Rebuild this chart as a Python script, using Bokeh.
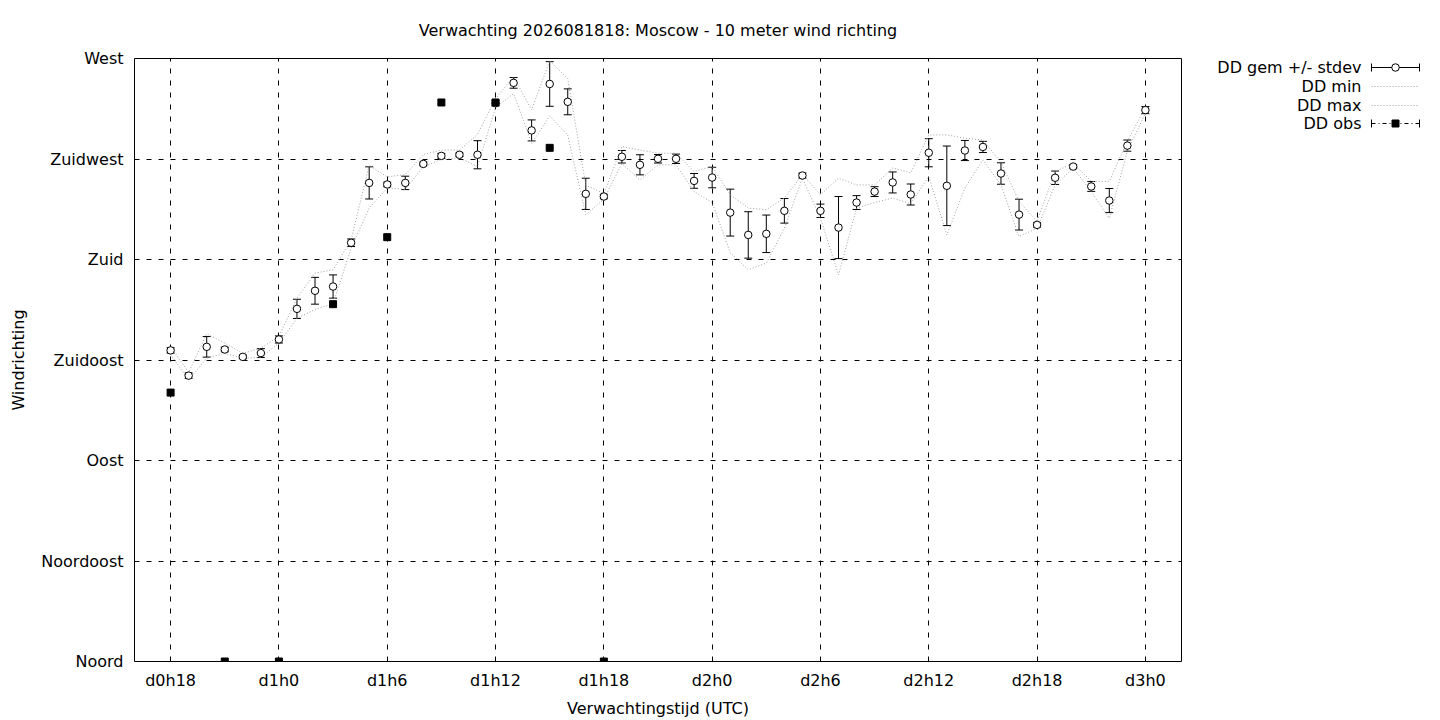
from bokeh.plotting import figure
from bokeh.models import Range1d, FixedTicker, Whisker, TeeHead, ColumnDataSource
from bokeh.layouts import row
from bokeh.embed import file_html
from bokeh.resources import INLINE
from bokeh.core.properties import value

# ---------------- data ----------------
hours = list(range(18, 73))
dd_mean = [139.3, 128.0, 140.9, 139.7, 136.4, 138.1, 144.2, 157.9, 166.0, 167.9,
           187.5, 214.3, 213.6, 214.3, 222.8, 226.4, 226.9, 226.9, 250.0, 259.1,
           237.8, 258.6, 250.6, 209.4, 208.2, 226.0, 222.4, 225.1, 225.1, 215.2,
           216.7, 201.0, 191.0, 191.5, 201.8, 217.6, 201.8, 194.3, 205.5, 210.4,
           214.5, 209.1, 227.8, 213.0, 228.8, 230.4, 218.5, 200.1, 195.5, 216.6,
           221.6, 212.7, 206.4, 231.0, 246.9]
dd_std = [1.2, 1.2, 4.6, 1.0, 0.8, 2.0, 1.6, 4.3, 6.0, 5.2,
          1.7, 7.2, 1.0, 3.0, 0.8, 1.1, 0.8, 6.3, 1.2, 2.4,
          4.7, 10.0, 5.8, 7.0, 1.0, 2.8, 4.5, 1.9, 2.1, 3.3,
          4.6, 10.5, 10.4, 8.4, 5.5, 1.1, 3.0, 13.9, 3.1, 2.2,
          4.7, 4.7, 6.3, 17.8, 4.5, 2.5, 4.8, 6.9, 1.0, 3.0,
          0.9, 2.2, 5.4, 2.5, 1.6]
dd_min = [137.5, 126.0, 135.8, 138.0, 135.8, 136.1, 142.6, 153.7, 157.6, 160.2,
          185.0, 203.0, 212.0, 211.4, 221.6, 224.8, 225.5, 221.6, 248.0, 254.3,
          232.0, 244.3, 235.7, 200.0, 207.0, 223.0, 215.6, 222.4, 222.4, 210.4,
          205.5, 183.1, 175.4, 178.4, 194.0, 216.4, 198.5, 173.1, 203.0, 205.5,
          207.5, 205.0, 217.2, 191.0, 212.0, 224.6, 213.4, 190.3, 194.0, 213.4,
          221.0, 210.4, 198.5, 228.5, 245.5]
dd_max = [141.0, 129.5, 146.7, 142.6, 138.0, 140.3, 145.5, 162.7, 173.9, 175.4,
          188.8, 222.2, 217.0, 218.0, 227.0, 229.0, 229.0, 236.0, 252.0, 261.8,
          247.0, 269.0, 261.0, 213.3, 209.5, 230.6, 229.0, 227.6, 227.6, 219.4,
          221.6, 209.0, 203.0, 202.3, 207.5, 218.0, 209.0, 216.4, 213.4, 213.4,
          221.0, 218.8, 235.8, 235.8, 234.3, 233.5, 223.5, 206.0, 197.0, 219.4,
          223.1, 215.0, 215.0, 233.0, 248.0]
obs_hours = [18, 21, 24, 27, 30, 33, 36, 39, 42]
obs_dd = [120.4, 0.0, 0.0, 160.0, 190.0, 250.3, 250.3, 230.0, 0.0]

y_ticks = [0, 45, 90, 135, 180, 225, 270]
y_labels = ["Noord", "Noordoost", "Oost", "Zuidoost", "Zuid", "Zuidwest", "West"]
x_ticks = [18, 24, 30, 36, 42, 48, 54, 60, 66, 72]
x_labels = ["d0h18", "d1h0", "d1h6", "d1h12", "d1h18", "d2h0", "d2h6", "d2h12", "d2h18", "d3h0"]

legend_labels = ["DD gem +/- stdev", "DD min", "DD max", "DD obs"]

FONT = "DejaVu Sans"
FS = "16px"

# ---------------- main figure ----------------
p = figure(frame_width=1047, frame_height=603,
           x_range=Range1d(16, 74), y_range=Range1d(0, 270),
           output_backend="svg", toolbar_location=None,
           min_border_left=134, min_border_right=10, min_border_top=56, min_border_bottom=0)
p.background_fill_color = "white"
p.border_fill_color = "white"
p.outline_line_color = "black"
p.outline_line_width = 1
p.outline_line_alpha = 1.0

p.title.text = "Verwachting 2026081818: Moscow - 10 meter wind richting"
p.title.align = "center"
p.title.text_font = FONT
p.title.text_font_size = FS
p.title.text_font_style = "normal"
p.title.text_color = "black"
p.title.standoff = 37

p.xaxis.ticker = FixedTicker(ticks=x_ticks)
p.xaxis.major_label_overrides = {t: l for t, l in zip(x_ticks, x_labels)}
p.yaxis.ticker = FixedTicker(ticks=y_ticks)
p.yaxis.major_label_overrides = {t: l for t, l in zip(y_ticks, y_labels)}
for ax in (p.xaxis, p.yaxis):
    ax.axis_line_color = None
    ax.major_tick_line_color = None
    ax.minor_tick_line_color = None
    ax.major_tick_in = 0
    ax.major_tick_out = 0
    ax.major_label_text_font = FONT
    ax.major_label_text_font_size = FS
    ax.major_label_text_color = "black"
    ax.axis_label_text_font = FONT
    ax.axis_label_text_font_size = FS
    ax.axis_label_text_font_style = "normal"
    ax.axis_label_text_color = "black"
p.xaxis.axis_label = "Verwachtingstijd (UTC)"
p.yaxis.axis_label = "Windrichting"
p.xaxis.major_label_standoff = 9
p.xaxis.axis_label_standoff = 6
p.yaxis.major_label_standoff = 11
p.yaxis.axis_label_standoff = 10

p.xgrid.ticker = FixedTicker(ticks=x_ticks)
p.ygrid.ticker = FixedTicker(ticks=y_ticks)
for g in (p.xgrid, p.ygrid):
    g.grid_line_color = "black"
    g.grid_line_dash = "5 7"
    g.grid_line_width = 1
    g.grid_line_alpha = 1.0

p.line(hours, dd_min, line_color="#a0a0a0", line_dash="1 2", line_width=1)
p.line(hours, dd_max, line_color="#a0a0a0", line_dash="1 2", line_width=1)

src = ColumnDataSource(dict(
    x=hours, mean=dd_mean,
    upper=[m + s for m, s in zip(dd_mean, dd_std)],
    lower=[m - s for m, s in zip(dd_mean, dd_std)]))
w = Whisker(base="x", upper="upper", lower="lower", source=src,
            line_color="black", line_width=1, level="underlay",
            upper_head=TeeHead(size=8, line_color="black", line_width=1),
            lower_head=TeeHead(size=8, line_color="black", line_width=1))
p.add_layout(w)
p.scatter("x", "mean", source=src, marker="circle", size=7.5,
          fill_color="white", line_color="black", line_width=1)
p.scatter(obs_hours, obs_dd, marker="square", size=7, fill_color="black", line_color="black")

# ---------------- legend figure (frame aligned with the main frame) ----------------
leg = figure(frame_width=248, frame_height=603, x_range=Range1d(0, 248), y_range=Range1d(603, 0),
             x_axis_type=None, y_axis_type=None, output_backend="svg",
             toolbar_location=None, min_border=0)
leg.grid.visible = False
leg.outline_line_color = None
leg.background_fill_color = "white"
leg.border_fill_color = "white"

ly = [9, 28, 47, 65]
leg.text(x=[170] * 4, y=ly, text=legend_labels, text_align="right", text_baseline="middle",
         text_font=value(FONT), text_font_size=FS, text_color="black")
x0, x1, xm = 180, 228, 204
# gem +/- stdev
leg.segment(x0=[x0], y0=[ly[0]], x1=[x1], y1=[ly[0]], line_color="black", line_width=1)
leg.segment(x0=[x0, x1], y0=[ly[0] - 4, ly[0] - 4], x1=[x0, x1], y1=[ly[0] + 4, ly[0] + 4],
            line_color="black", line_width=1)
leg.scatter([xm], [ly[0]], marker="circle", size=7.5, fill_color="white", line_color="black")
# min / max
leg.segment(x0=[x0, x0], y0=[ly[1], ly[2]], x1=[x1, x1], y1=[ly[1], ly[2]],
            line_color="#a0a0a0", line_dash="1 2", line_width=1)
# obs
leg.segment(x0=[x0], y0=[ly[3]], x1=[x1], y1=[ly[3]], line_color="black",
            line_dash="4 3 1 3", line_width=1)
leg.segment(x0=[x0, x1], y0=[ly[3] - 4, ly[3] - 4], x1=[x0, x1], y1=[ly[3] + 4, ly[3] + 4],
            line_color="black", line_width=1)
leg.scatter([xm], [ly[3]], marker="square", size=7, fill_color="black", line_color="black")

layout = row(p, leg)
open("out.html", "w").write(file_html(layout, INLINE))
